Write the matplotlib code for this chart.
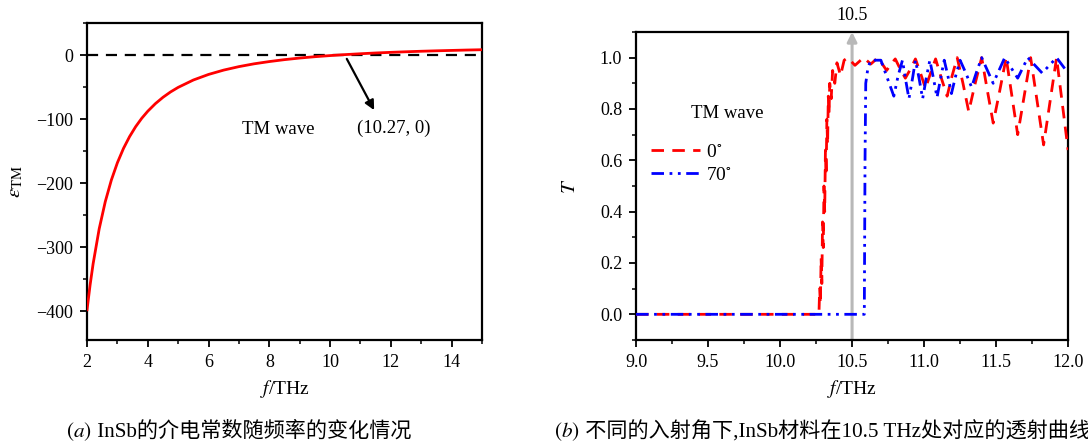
import matplotlib
matplotlib.use("Agg")
import matplotlib.pyplot as plt
from matplotlib.ticker import MultipleLocator

plt.rcParams['font.family'] = ['Liberation Serif', 'Noto Sans CJK SC', 'DejaVu Sans']
plt.rcParams['mathtext.fontset'] = 'stix'

# ---- (a) permittivity of InSb vs frequency ----
f_eps = [2.0, 2.1, 2.2, 2.4, 2.6, 2.8, 3.0, 3.2, 3.4, 3.6, 3.8, 4.0, 4.25, 4.5, 4.75,
         5.0, 5.5, 6.0, 6.5, 7.0, 7.5, 8.0, 8.5, 9.0, 9.5, 10.0, 10.5, 11.0, 11.5,
         12.0, 12.5, 13.0, 13.5, 14.0, 14.5, 15.0]
eps_tm = [-397.8, -359.3, -326.0, -271.4, -229.0, -195.3, -168.1, -145.8, -127.4,
          -111.9, -98.8, -87.7, -75.9, -66.0, -57.6, -50.5, -39.0, -30.3, -23.5,
          -18.1, -13.7, -10.2, -7.2, -4.7, -2.6, -0.86, 0.68, 2.0, 3.2, 4.2, 5.1,
          5.9, 6.6, 7.2, 7.8, 8.3]
zero_point = (10.27, 0)

# ---- (b) transmission at 10.5 THz ----
f_0 = [9.0, 10.27, 10.275, 10.28, 10.285, 10.29, 10.295, 10.30, 10.305, 10.31, 10.315,
       10.32, 10.325, 10.33, 10.335, 10.34, 10.345, 10.355, 10.365, 10.38, 10.395, 10.42,
       10.445, 10.47, 10.52, 10.58, 10.63, 10.68, 10.71, 10.74, 10.77, 10.80, 10.835,
       10.87, 10.905, 10.94, 10.975, 11.01, 11.045, 11.08, 11.12, 11.16, 11.195, 11.23,
       11.27, 11.31, 11.355, 11.40, 11.44, 11.48, 11.525, 11.57, 11.61, 11.65, 11.695,
       11.74, 11.785, 11.83, 11.875, 11.92, 11.96, 12.0]
T_0 = [0.0, 0.0, 0.10, 0.04, 0.22, 0.12, 0.36, 0.26, 0.50, 0.40, 0.64,
       0.54, 0.76, 0.66, 0.85, 0.78, 0.90, 0.84, 0.95, 0.90, 0.98, 0.93,
       0.99, 1.0, 0.97, 1.0, 0.975, 1.0, 0.975, 0.95, 0.975, 0.995, 0.955,
       0.92, 0.955, 0.995, 0.94, 0.88, 0.94, 0.995, 0.92, 0.85, 0.93, 1.0,
       0.90, 0.79, 0.90, 1.0, 0.87, 0.745, 0.87, 1.0, 0.85, 0.70, 0.85,
       1.0, 0.83, 0.66, 0.83, 1.0, 0.82, 0.64]
f_70 = [9.0, 10.585, 10.59, 10.595, 10.61, 10.63, 10.70, 10.745, 10.79, 10.82, 10.85,
        10.87, 10.895, 10.92, 10.94, 10.965, 10.99, 11.015, 11.04, 11.065, 11.09,
        11.115, 11.14, 11.165, 11.19, 11.22, 11.25, 11.29, 11.33, 11.365, 11.40,
        11.44, 11.48, 11.52, 11.56, 11.605, 11.65, 11.685, 11.72, 11.77, 11.82,
        11.87, 11.92, 11.96, 12.0]
T_70 = [0.0, 0.0, 0.60, 0.90, 0.96, 0.99, 0.99, 0.92, 0.85, 0.93, 0.99,
        0.92, 0.84, 0.92, 0.99, 0.92, 0.84, 0.92, 0.99, 0.92, 0.845,
        0.92, 0.99, 0.93, 0.86, 0.93, 0.99, 0.94, 0.885, 0.945, 1.0,
        0.95, 0.90, 0.95, 1.0, 0.96, 0.92, 0.96, 1.0, 0.97, 0.94,
        0.97, 1.0, 0.97, 0.94]
f_mark = 10.5

fig = plt.figure(figsize=(10.88, 4.46), dpi=100)
ax1 = fig.add_axes([0.0800, 0.2377, 0.3630, 0.7107])
ax2 = fig.add_axes([0.5846, 0.2377, 0.3971, 0.6906])

fs = 13
for ax in (ax1, ax2):
    for s in ax.spines.values():
        s.set_linewidth(1.6)
    ax.tick_params(which='major', direction='out', length=5, width=1.3,
                   labelsize=fs, top=False, right=False, pad=5)
    ax.tick_params(which='minor', direction='out', length=3, width=1.1,
                   top=False, right=False)

# (a)
ax1.plot(f_eps, eps_tm, color='#ff0000', lw=2.0, zorder=3)
ax1.axhline(0, color='black', lw=1.6, ls=(0, (5, 3.5)), zorder=2)
ax1.set_xlim(2, 15)
ax1.set_ylim(-445, 50)
ax1.xaxis.set_major_locator(MultipleLocator(2))
ax1.xaxis.set_minor_locator(MultipleLocator(1))
ax1.yaxis.set_major_locator(MultipleLocator(100))
ax1.yaxis.set_minor_locator(MultipleLocator(50))
ax1.set_yticks([-400, -300, -200, -100, 0])
ax1.set_yticklabels(['\u2212400', '\u2212300', '\u2212200', '\u2212100', '0'])
ax1.set_xlabel('$f$/THz', fontsize=fs + 1, labelpad=5)
ax1.set_ylabel(r'$\varepsilon_{\rm TM}$', fontsize=fs + 2, labelpad=8)
ax1.annotate('', xy=(11.45, -86), xytext=(10.55, -6),
             arrowprops=dict(arrowstyle='-|>', color='black', lw=1.6,
                             mutation_scale=14, shrinkA=0, shrinkB=0))
ax1.text(12.1, -114, '(%.2f, %d)' % zero_point, fontsize=fs + 0.5, ha='center', va='center')
ax1.text(8.3, -117, 'TM wave', fontsize=fs + 0.5, ha='center', va='center')

# (b)
ax2.annotate('', xy=(f_mark, 1.1), xytext=(f_mark, -0.1),
             arrowprops=dict(arrowstyle='-|>', color='#b8b8b8', lw=2.2,
                             mutation_scale=14, shrinkA=0, shrinkB=0),
             annotation_clip=False, zorder=1)
ax2.text(f_mark, 1.165, '10.5', fontsize=fs, ha='center', va='center')
ax2.plot(f_0, T_0, color='#ff0000', lw=2.0, ls=(0, (4.5, 3)), label='0$^{\\circ}$', zorder=3)
ax2.plot(f_70, T_70, color='#0000ff', lw=2.0, ls=(0, (4.5, 2, 1, 2, 1, 2)),
         label='70$^{\\circ}$', zorder=4)
ax2.set_xlim(9.0, 12.0)
ax2.set_ylim(-0.1, 1.1)
ax2.xaxis.set_minor_locator(MultipleLocator(0.25))
ax2.yaxis.set_minor_locator(MultipleLocator(0.1))
ax2.set_yticks([0.0, 0.2, 0.4, 0.6, 0.8, 1.0])
ax2.set_yticklabels(['0.0', '0.2', '0.4', '0.6', '0.8', '1.0'])
ax2.set_xticks([9.0, 9.5, 10.0, 10.5, 11.0, 11.5, 12.0])
ax2.set_xticklabels(['9.0', '9.5', '10.0', '10.5', '11.0', '11.5', '12.0'])
ax2.set_xlabel('$f$/THz', fontsize=fs + 1, labelpad=5)
ax2.set_ylabel('$T$', fontsize=fs + 2, labelpad=14)
ax2.text(9.63, 0.783, 'TM wave', fontsize=fs + 0.5, ha='center', va='center')
ax2.legend(loc='center left', bbox_to_anchor=(0.035, 0.573), frameon=False,
           fontsize=fs + 1, handlelength=2.5, handletextpad=0.3, labelspacing=0.25,
           borderpad=0, borderaxespad=0)

cap_family = ['Liberation Serif', 'Noto Sans CJK SC']
cfs = 15.2
ta = fig.text(0.061, 0.032, '$(a)$', fontsize=cfs, ha='left', va='center')
ax1.annotate(' InSb的介电常数随频率的变化情况', xy=(1.0, 0.5), xycoords=ta,
             fontsize=cfs, ha='left', va='center', family=cap_family,
             annotation_clip=False)
tb = fig.text(0.509, 0.032, '$(b)$', fontsize=cfs, ha='left', va='center')
ax1.annotate(' 不同的入射角下,InSb材料在10.5 THz处对应的透射曲线', xy=(1.0, 0.5),
             xycoords=tb, fontsize=cfs, ha='left', va='center', family=cap_family,
             annotation_clip=False)

fig.savefig('out.png', dpi=100)
